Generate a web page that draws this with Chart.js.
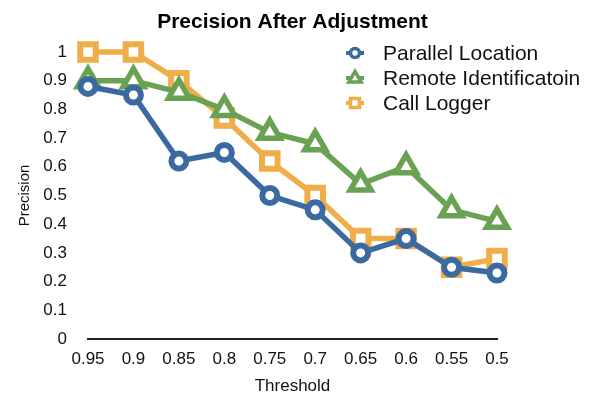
<!DOCTYPE html>
<html>
<head>
<meta charset="utf-8">
<script src="https://cdn.jsdelivr.net/npm/chart.js@4/dist/chart.umd.min.js"></script>
<style>
html,body{margin:0;padding:0;background:#fff;}
canvas{display:block;}
</style>
</head>
<body>
<canvas id="c" width="601" height="397"></canvas>
<script>
const categories = ['0.95','0.9','0.85','0.8','0.75','0.7','0.65','0.6','0.55','0.5'];
const parallelLocation = [0.88,0.85,0.62,0.65,0.50,0.45,0.30,0.35,0.25,0.23];
const remoteIdentification = [0.90,0.90,0.86,0.80,0.72,0.68,0.54,0.60,0.45,0.41];
const callLogger = [1.00,1.00,0.90,0.77,0.62,0.50,0.35,0.35,0.25,0.28];
const yTicks = [0,0.1,0.2,0.3,0.4,0.5,0.6,0.7,0.8,0.9,1];
const seriesNames = ['Parallel Location','Remote Identificatoin','Call Logger'];
const chartTitle = 'Precision After Adjustment';

const BLUE = '#3b6aa0', GREEN = '#6aa253', ORANGE = '#efae4a';
const FONT = 'Helvetica, Arial, "Liberation Sans", sans-serif';

const legendPlugin = {
  id: 'insideLegend',
  afterDraw(chart) {
    const ctx = chart.ctx;
    // title
    ctx.save();
    ctx.fillStyle = '#000';
    ctx.font = 'bold 21px ' + FONT;
    ctx.textAlign = 'center';
    ctx.textBaseline = 'alphabetic';
    const ca = chart.chartArea;
    ctx.fillText(chartTitle, (ca.left + ca.right) / 2, 28);
    ctx.restore();

    const x0 = 346, x1 = 364, tx = 383;
    const ys = [53, 78, 103];
    chart.data.datasets.forEach((ds, i) => {
      const y = ys[i];
      const cx = (x0 + x1) / 2;
      ctx.save();
      ctx.strokeStyle = ds.borderColor;
      ctx.lineWidth = 4;
      ctx.beginPath(); ctx.moveTo(x0, y); ctx.lineTo(x1, y); ctx.stroke();
      ctx.fillStyle = '#fff';
      ctx.lineWidth = 3.5;
      ctx.beginPath();
      const r = 4.5;
      if (ds.pointStyle === 'circle') {
        ctx.arc(cx, y, r, 0, Math.PI * 2);
      } else if (ds.pointStyle === 'triangle') {
        const rr = 6.5;
        ctx.moveTo(cx, y - rr);
        ctx.lineTo(cx + rr * 0.95, y + rr * 0.6);
        ctx.lineTo(cx - rr * 0.95, y + rr * 0.6);
        ctx.closePath();
      } else {
        ctx.rect(cx - r, y - r, 2 * r, 2 * r);
      }
      ctx.fill(); ctx.stroke();
      ctx.fillStyle = '#111';
      ctx.font = '21px ' + FONT;
      ctx.textBaseline = 'middle';
      ctx.textAlign = 'left';
      ctx.fillText(ds.label, tx, y + 1);
      ctx.restore();
    });
  }
};

function ds(label, data, color, style, radius, pbw) {
  return {
    label, data,
    borderColor: color,
    backgroundColor: '#fff',
    pointBackgroundColor: '#fff',
    pointBorderColor: color,
    borderWidth: 5.5,
    pointBorderWidth: pbw,
    pointRadius: radius,
    pointHoverRadius: radius,
    pointStyle: style,
    tension: 0,
    clip: false
  };
}

new Chart(document.getElementById('c'), {
  type: 'line',
  data: {
    labels: categories,
    datasets: [
      ds(seriesNames[0], parallelLocation, BLUE, 'circle', 7.5, 6),
      ds(seriesNames[1], remoteIdentification, GREEN, 'triangle', 12, 5.5),
      ds(seriesNames[2], callLogger, ORANGE, 'rect', 11, 6)
    ]
  },
  options: {
    responsive: false,
    animation: false,
    devicePixelRatio: 1,
    layout: { padding: { left: 0, right: 104, top: 52, bottom: 0 } },
    plugins: {
      legend: { display: false },
      tooltip: { enabled: false },
      title: { display: false }
    },
    scales: {
      x: {
        offset: false,
        grid: { display: false, drawTicks: false },
        border: { display: true, color: '#222', width: 2 },
        ticks: { color: '#111', font: { family: FONT, size: 17 }, padding: 10, maxRotation: 0, autoSkip: false },
        title: { display: true, text: 'Threshold', color: '#111', font: { family: FONT, size: 17 }, padding: { top: 6, bottom: 0 } },
        afterFit(scale) { scale.height = 58; }
      },
      y: {
        min: 0, max: 1,
        grid: { display: false, drawTicks: false },
        border: { display: false },
        afterBuildTicks(scale) { scale.ticks = yTicks.map(v => ({ value: v })); },
        ticks: {
          color: '#111', font: { family: FONT, size: 17 }, padding: 21,
          callback: v => String(+v.toFixed(2))
        },
        title: { display: true, text: 'Precision', color: '#111', font: { family: FONT, size: 15 }, padding: { top: 16, bottom: 0 } },
        afterFit(scale) { scale.width = 88; }
      }
    }
  },
  plugins: [legendPlugin]
});
</script>
</body>
</html>
